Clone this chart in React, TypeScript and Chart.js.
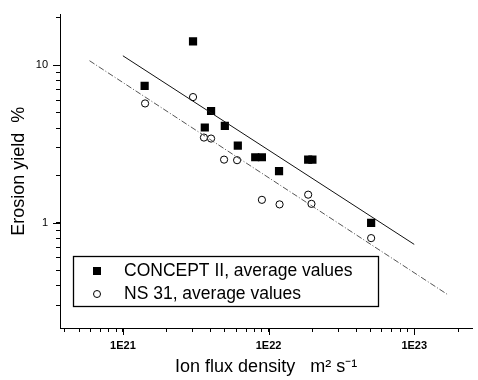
import React, { useEffect, useRef } from "react";
import { Chart, registerables } from "chart.js";

Chart.register(...registerables);

const conceptX = [1.41e21, 3.03e21, 4.03e21, 3.65e21, 5.01e21, 6.15e21, 8.1e21, 9.0e21, 1.18e22, 1.87e22, 2.0e22, 5.06e22];
const conceptY = [7.4, 14.2, 5.13, 4.03, 4.13, 3.09, 2.61, 2.61, 2.13, 2.52, 2.52, 1.0];

const ns31X = [1.42e21, 3.03e21, 3.6e21, 4.03e21, 4.95e21, 6.08e21, 9.0e21, 1.19e22, 1.87e22, 1.97e22, 5.06e22];
const ns31Y = [5.73, 6.29, 3.48, 3.43, 2.52, 2.5, 1.4, 1.31, 1.51, 1.32, 0.8];

const fitConceptX = [1e21, 1e23];
const fitConceptY = [11.5, 0.73];
const fitNsX = [5.9e20, 1.7e23];
const fitNsY = [10.7, 0.35];

const xTickValues = [4e20, 5e20, 6e20, 7e20, 8e20, 9e20, 1e21, 2e21, 3e21, 4e21, 5e21, 6e21, 7e21, 8e21, 9e21, 1e22, 2e22, 3e22, 4e22, 5e22, 6e22, 7e22, 8e22, 9e22, 1e23, 2e23];
const xMajorValues = [1e21, 1e22, 1e23];
const xMajorLabels = ["1E21", "1E22", "1E23"];
const yTickValues = [0.3, 0.4, 0.5, 0.6, 0.7, 0.8, 0.9, 1, 2, 3, 4, 5, 6, 7, 8, 9, 10, 20];
const yMajorValues = [1, 10];
const yMajorLabels = ["1", "10"];

const legendLabels = ["CONCEPT II, average values", "NS 31, average values"];
const xTitle = "Ion flux density   m² s⁻¹";
const yTitle = "Erosion yield  %";

const toPts = (xs: number[], ys: number[]) => xs.map((x, i) => ({ x, y: ys[i] }));
const FONT = "'Liberation Sans', Arial, sans-serif";

export default function App() {
  const ref = useRef<HTMLCanvasElement | null>(null);
  useEffect(() => {
    if (!ref.current) return;
    const majorPlugin = {
      id: "extras",
      afterDraw(chart: any) {
        const ctx = chart.ctx;
        const xs = chart.scales.x;
        const ys = chart.scales.y;
        const ca = chart.chartArea;
        ctx.save();
        ctx.strokeStyle = "#000";
        ctx.lineWidth = 1;
        ctx.beginPath();
        xMajorValues.forEach((v) => {
          const px = Math.round(xs.getPixelForValue(v)) + 0.5;
          ctx.moveTo(px, ca.bottom);
          ctx.lineTo(px, ca.bottom + 7);
        });
        yMajorValues.forEach((v) => {
          const py = Math.round(ys.getPixelForValue(v)) + 0.5;
          ctx.moveTo(ca.left, py);
          ctx.lineTo(ca.left - 7, py);
        });
        ctx.stroke();
        // legend box
        const lx = ca.left + 13;
        const ly = ca.bottom - 72;
        const lw = 305;
        const lh = 50;
        ctx.fillStyle = "#fff";
        ctx.fillRect(lx, ly, lw, lh);
        ctx.lineWidth = 1.3;
        ctx.strokeRect(lx + 0.5, ly + 0.5, lw, lh);
        ctx.font = `17.5px ${FONT}`;
        ctx.textBaseline = "middle";
        ctx.fillStyle = "#000";
        const r1 = ly + 15;
        const r2 = ly + 38;
        ctx.fillRect(lx + 20, r1 - 4, 8, 8);
        ctx.beginPath();
        ctx.lineWidth = 1;
        ctx.arc(lx + 24, r2, 3.5, 0, Math.PI * 2);
        ctx.stroke();
        ctx.fillText(legendLabels[0], lx + 51, r1);
        ctx.fillText(legendLabels[1], lx + 51, r2);
        ctx.restore();
      },
    };
    const chart = new Chart(ref.current, {
      type: "scatter",
      data: {
        datasets: [
          {
            label: "fitConcept",
            data: toPts(fitConceptX, fitConceptY),
            showLine: true,
            borderColor: "#111",
            borderWidth: 1,
            pointRadius: 0,
          },
          {
            label: "fitNs",
            data: toPts(fitNsX, fitNsY),
            showLine: true,
            borderColor: "#555",
            borderWidth: 1,
            borderDash: [6, 2, 1, 2],
            pointRadius: 0,
          },
          {
            label: legendLabels[0],
            data: toPts(conceptX, conceptY),
            pointStyle: "rect",
            pointRadius: 5.8,
            backgroundColor: "#000",
            borderColor: "#000",
            borderWidth: 0,
          },
          {
            label: legendLabels[1],
            data: toPts(ns31X, ns31Y),
            pointStyle: "circle",
            pointRadius: 3.6,
            backgroundColor: "#fff",
            borderColor: "#000",
            borderWidth: 1,
          },
        ],
      },
      options: {
        animation: false,
        responsive: false,
        maintainAspectRatio: false,
        layout: { padding: { top: 12, right: 3, left: 0, bottom: 0 } },
        plugins: { legend: { display: false }, tooltip: { enabled: false } },
        scales: {
          x: {
            type: "logarithmic",
            min: 3.7e20,
            max: 2.5e23,
            afterBuildTicks: (s: any) => {
              s.ticks = xTickValues.map((v) => ({ value: v }));
            },
            afterFit: (s: any) => {
              s.height = 52;
            },
            grid: { display: true, drawOnChartArea: false, tickLength: 4, color: "#000" },
            border: { display: true, color: "#000", width: 1 },
            ticks: {
              autoSkip: false,
              maxRotation: 0,
              padding: 7,
              color: "#000",
              font: { family: FONT, size: 11, weight: "bold" },
              callback: (v: any) => {
                const i = xMajorValues.findIndex((m) => Math.abs(m - v) / m < 1e-6);
                return i >= 0 ? xMajorLabels[i] : "";
              },
            },
            title: {
              display: true,
              text: xTitle,
              color: "#000",
              font: { family: FONT, size: 18 },
              padding: { top: 0, bottom: 2 },
            },
          },
          y: {
            type: "logarithmic",
            min: 0.215,
            max: 21,
            afterBuildTicks: (s: any) => {
              s.ticks = yTickValues.map((v) => ({ value: v }));
            },
            afterFit: (s: any) => {
              s.width = 60;
            },
            grid: { display: true, drawOnChartArea: false, tickLength: 4, color: "#000" },
            border: { display: true, color: "#000", width: 1 },
            ticks: {
              autoSkip: false,
              padding: 8,
              color: "#000",
              font: { family: FONT, size: 11 },
              callback: (v: any) => {
                const i = yMajorValues.findIndex((m) => Math.abs(m - v) / m < 1e-6);
                return i >= 0 ? yMajorLabels[i] : "";
              },
            },
            title: {
              display: true,
              text: yTitle,
              color: "#000",
              font: { family: FONT, size: 18 },
              padding: { top: 8, bottom: 0 },
            },
          },
        },
      },
      plugins: [majorPlugin],
    } as any);
    return () => chart.destroy();
  }, []);
  return (
    <div style={{ position: "absolute", left: 0, top: 0, width: 478, height: 380, background: "#fff" }}>
      <canvas ref={ref} width={478} height={380} style={{ width: 478, height: 380 }} />
    </div>
  );
}
